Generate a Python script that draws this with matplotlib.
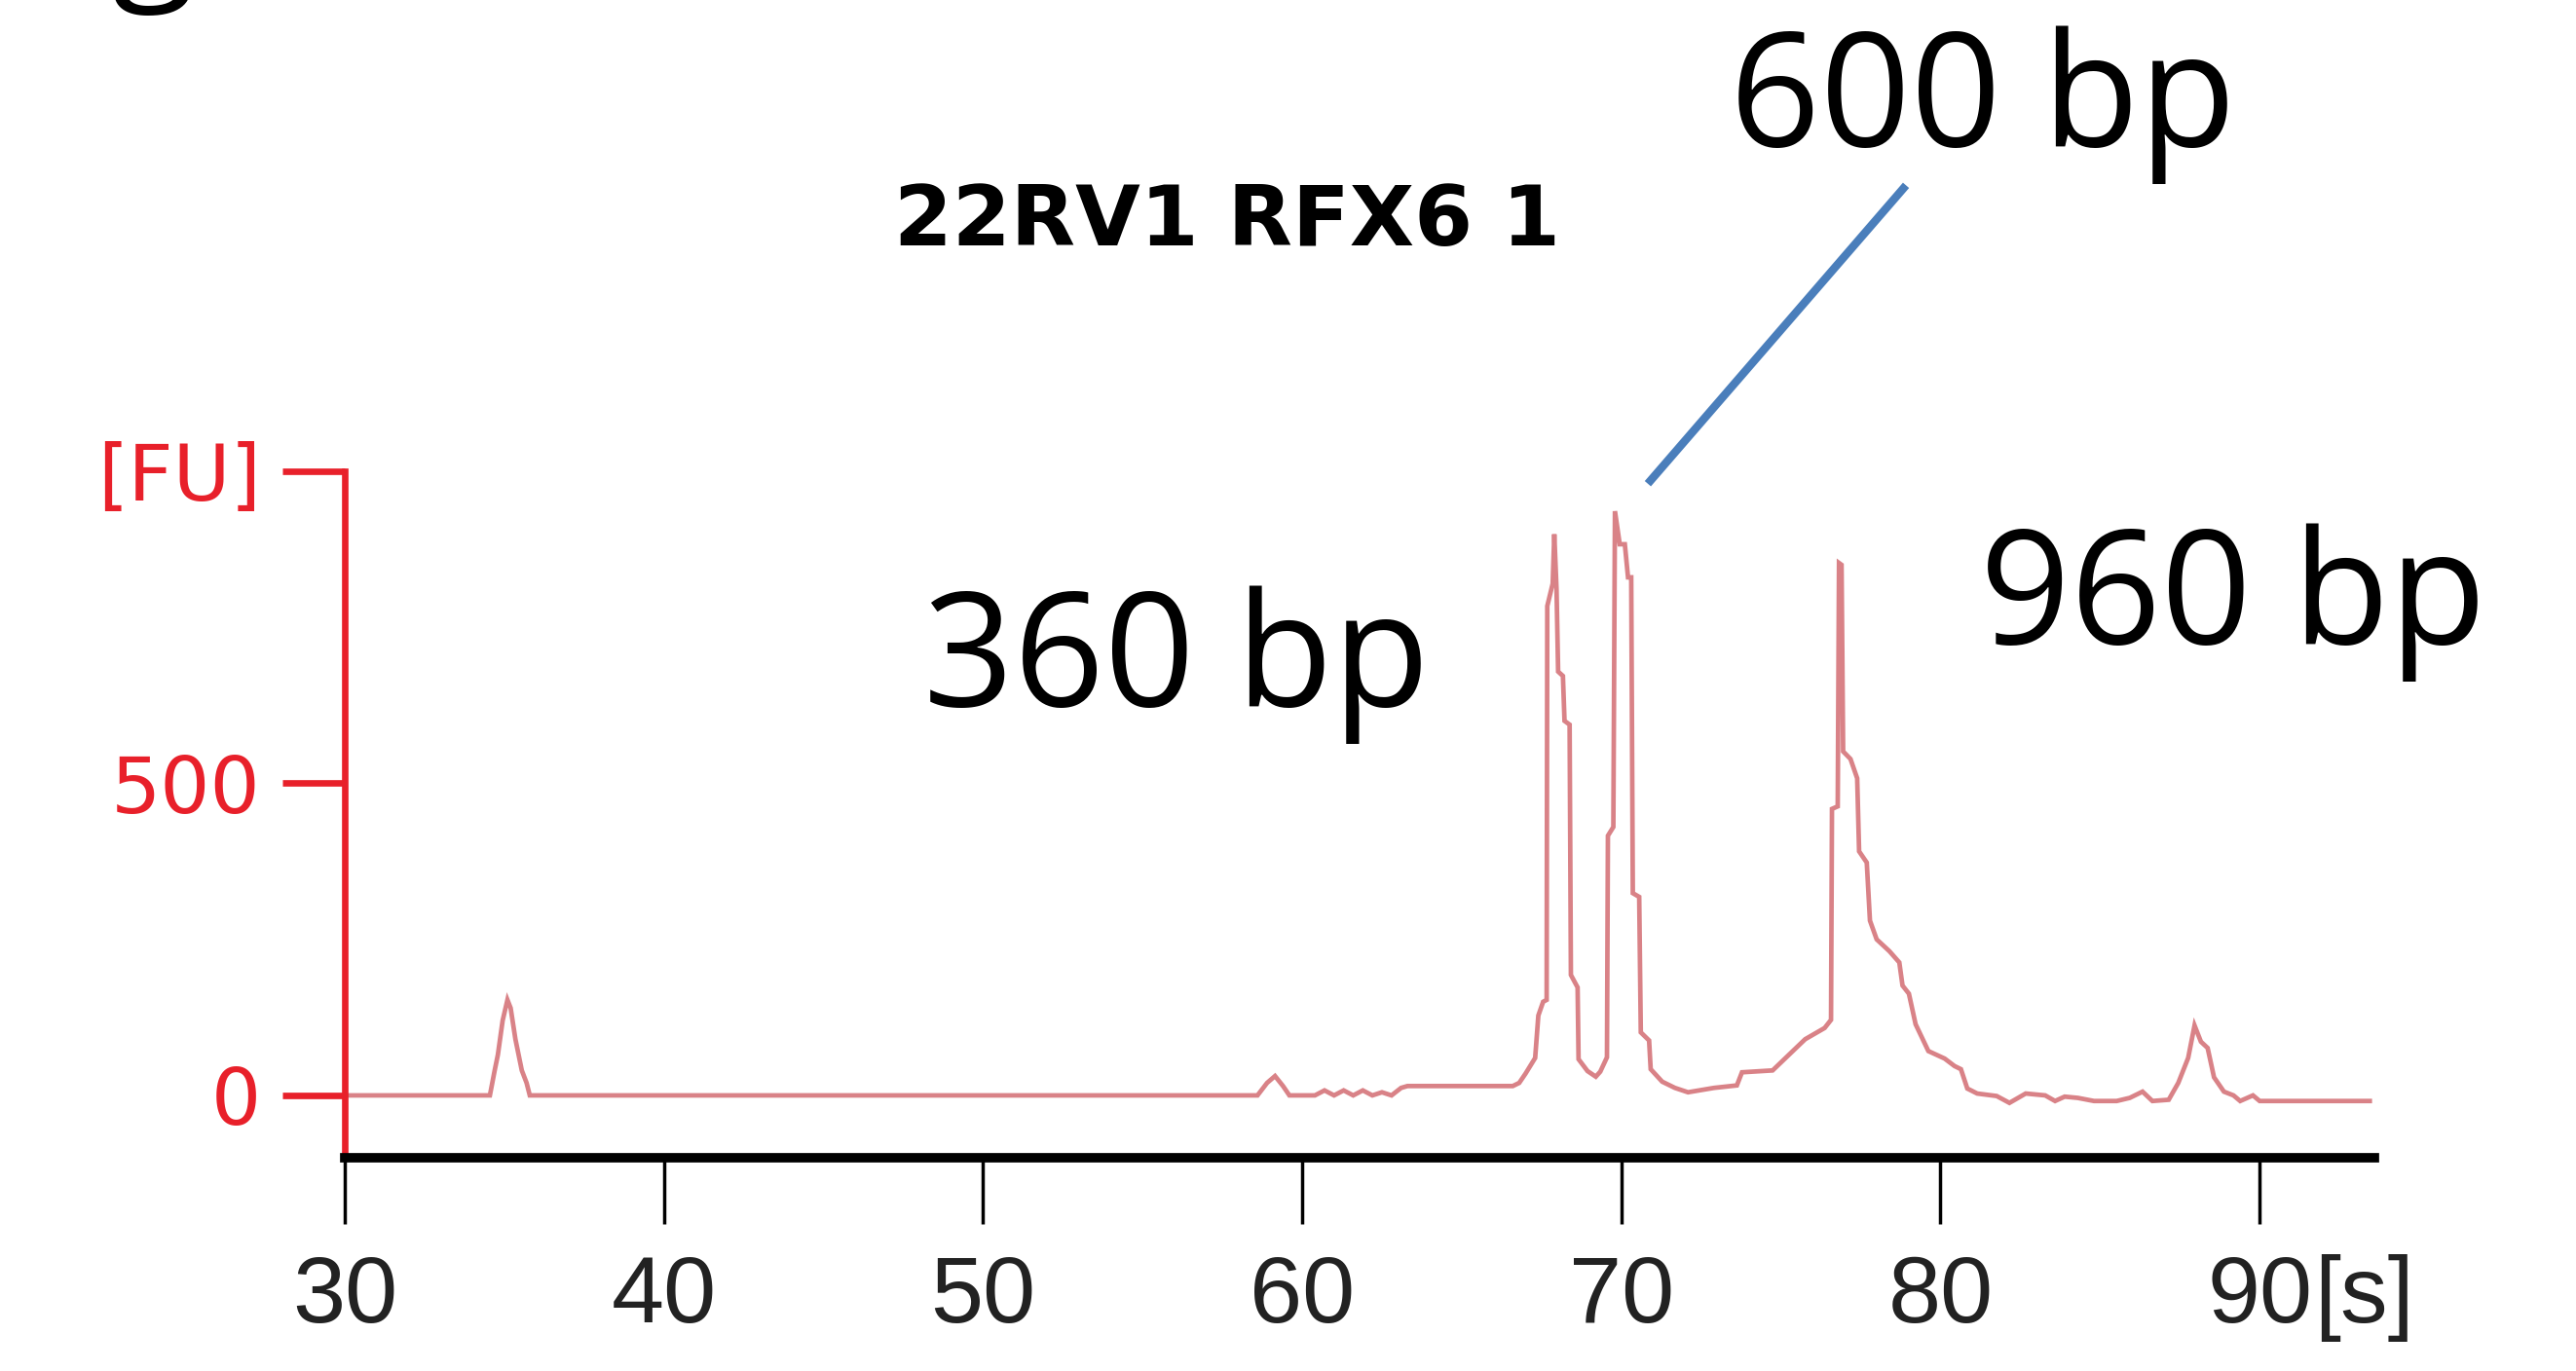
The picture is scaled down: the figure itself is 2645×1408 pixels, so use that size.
import matplotlib
matplotlib.use("Agg")
import matplotlib.pyplot as plt
from matplotlib import font_manager as fm

# ---------------- data ----------------
time_s = [30.0, 34.55, 34.7, 34.8, 34.95, 35.1, 35.2, 35.35, 35.55, 35.7, 35.8,
          58.6, 58.9, 59.15, 59.4, 59.6, 60.4, 60.7, 61.0, 61.3, 61.6, 61.9,
          62.2, 62.5, 62.8, 63.1, 63.3, 66.6, 66.8, 67.0, 67.3, 67.4, 67.55,
          67.66, 67.68, 67.85, 67.9, 67.97, 68.02, 68.17, 68.22, 68.38, 68.42,
          68.63, 68.66, 68.94, 69.2, 69.34, 69.55, 69.58, 69.75, 69.8, 69.95,
          70.11, 70.21, 70.31, 70.36, 70.56, 70.61, 70.87, 70.92, 71.28, 71.68,
          72.09, 72.9, 73.62, 73.78, 74.74, 75.25, 75.76, 76.37, 76.57, 76.6,
          76.78, 76.82, 76.9, 76.95, 77.18, 77.39, 77.45, 77.69, 77.79, 78.0,
          78.4, 78.71, 78.81, 79.01, 79.22, 79.62, 80.13, 80.44, 80.64, 80.84,
          81.15, 81.76, 82.16, 82.67, 83.28, 83.59, 83.89, 84.3, 84.81, 85.52,
          85.93, 86.33, 86.64, 87.15, 87.45, 87.76, 87.96, 88.16, 88.37, 88.57,
          88.88, 89.18, 89.39, 89.79, 90.0, 93.45]
fu = [0, 0, 40, 65, 120, 153, 140, 90, 40, 20, 0,
      0, 20, 31, 15, 0, 0, 8, 0, 8, 0, 8,
      0, 5, 0, 12, 15, 15, 20, 35, 60, 128, 150,
      153, 784, 820, 899, 811, 679, 672, 600, 594, 193,
      173, 58, 39, 30, 38, 61, 416, 430, 936, 883,
      883, 830, 830, 324, 318, 101, 88, 42, 22, 12,
      5, 12, 16, 37, 40, 65, 90, 108, 121, 459,
      463, 853, 850, 551, 539, 508, 391, 373, 280, 250,
      231, 213, 176, 163, 114, 71, 59, 47, 42, 11,
      3, -1, -12, 3, 0, -9, -2, -4, -9, -9,
      -4, 6, -9, -7, 20, 60, 112, 86, 76, 29,
      6, 0, -9, 0, -9, -9]

x_ticks = [30, 40, 50, 60, 70, 80, 90]
y_ticks = [0, 500, 1000]
y_tick_labels = ["0", "500", "[FU]"]
title = "22RV1 RFX6 1"
size_labels = ["360 bp", "600 bp", "960 bp"]

# ---------------- fonts ----------------
installed = {f.name for f in fm.fontManager.ttflist}
narrow = "DejaVu Sans"
for cand in ("Liberation Sans Narrow", "Liberation Sans", "Roboto"):
    if cand in installed:
        narrow = cand
        break
big = "Open Sans" if "Open Sans" in installed else "DejaVu Sans"

RED = "#e8202a"
TRACE = "#d98287"
BLUE = "#4a7ebb"

fig = plt.figure(figsize=(26.45, 14.08), dpi=100)
ax = fig.add_axes([0.1338, 0.1555, 0.788, 0.5008])

ax.plot(time_s, fu, color=TRACE, lw=3.4, solid_joinstyle="miter")

ax.set_xlim(30, 93.6)
ax.set_ylim(-100, 1000)

for s in ("top", "right"):
    ax.spines[s].set_visible(False)
ax.spines["left"].set_color(RED)
ax.spines["left"].set_linewidth(4.8)
ax.spines["bottom"].set_color("black")
ax.spines["bottom"].set_linewidth(7)

ax.set_xticks(x_ticks)
ax.set_xticklabels([str(v) for v in x_ticks], family=narrow, fontsize=70, color="#222222")
ax.tick_params(axis="x", length=49, width=2.5, color="black", pad=22)

ax.set_yticks(y_ticks)
ax.set_yticklabels(y_tick_labels, family="DejaVu Sans", fontsize=58, color=RED)
ax.tick_params(axis="y", length=46, width=4.8, color=RED, pad=16)

# unit after the last x tick
ax.annotate("[s]", xy=(90, 0), xycoords=("data", "axes fraction"),
            xytext=(40, -71), textcoords="offset points",
            ha="left", va="top", family=narrow, fontsize=70, color="#222222")

# sample title
fig.text(0.4764, 0.838, title, ha="center", va="center",
         family="DejaVu Sans", fontweight="bold", fontsize=62, color="black")

# fragment size labels
fig.text(948 / 2645, 1 - 725 / 1408, size_labels[0], ha="left", va="baseline",
         family=big, fontsize=117, color="black")
fig.text(1776 / 2645, 1 - 150 / 1408, size_labels[1], ha="left", va="baseline",
         family=big, fontsize=117, color="black")
fig.text(2033 / 2645, 1 - 661 / 1408, size_labels[2], ha="left", va="baseline",
         family=big, fontsize=117, color="black")

# pointer line to the 600 bp peak
ax.plot([70.83, 78.92], [980, 1458], color=BLUE, lw=6, clip_on=False,
        solid_capstyle="butt")

# cropped panel letter at the top edge
fig.text(115 / 2645, 1 + 22 / 1408, "g", ha="left", va="baseline",
         family=big, fontsize=113, color="black")

fig.savefig("out.png", dpi=100, facecolor="white")
